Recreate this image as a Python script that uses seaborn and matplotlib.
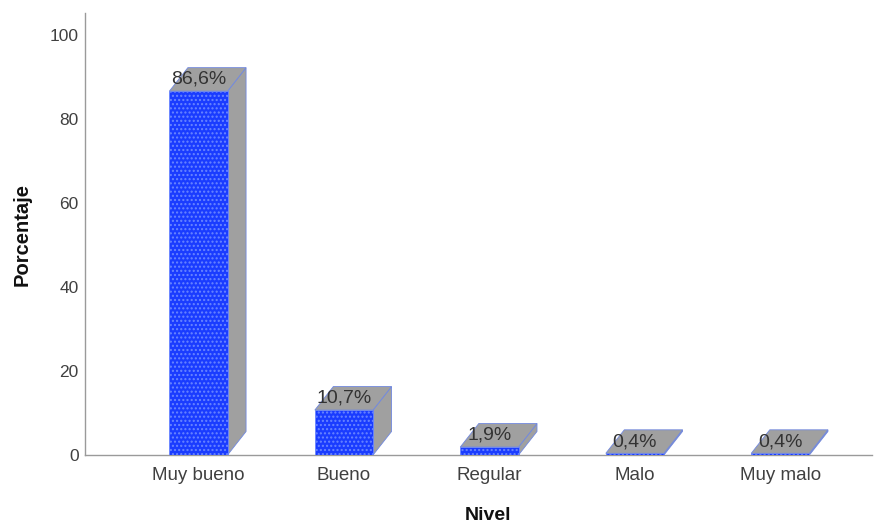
import matplotlib
matplotlib.use("Agg")
import matplotlib.pyplot as plt
from matplotlib import font_manager
import seaborn as sns
import pandas as pd
from matplotlib.patches import Polygon

categorias = ["Muy bueno", "Bueno", "Regular", "Malo", "Muy malo"]
porcentajes = [86.6, 10.7, 1.9, 0.4, 0.4]
etiquetas = ["86,6%", "10,7%", "1,9%", "0,4%", "0,4%"]
yticks = [0, 20, 40, 60, 80, 100]

sns.set_theme(style="white")
plt.rcParams['font.family'] = ['Liberation Sans', 'DejaVu Sans']
plt.rcParams['hatch.linewidth'] = 1.0

# narrow face for y tick labels if available
try:
    font_manager.findfont(font_manager.FontProperties(family="Liberation Sans Narrow"),
                          fallback_to_default=False)
    ytick_font = dict(family="Liberation Sans Narrow", size=14)
except Exception:
    ytick_font = dict(family="Liberation Sans", size=12.5, stretch="condensed")

W, H = 876, 524
fig = plt.figure(figsize=(W / 100, H / 100), dpi=100)
ax = fig.add_axes([85 / W, 69 / H, (872 - 85) / W, (455 - 13) / H])

df = pd.DataFrame({"Nivel": categorias, "Porcentaje": porcentajes})
sns.barplot(data=df, x="Nivel", y="Porcentaje", width=0.4, color="#1a3cff",
            saturation=1, edgecolor="#6a86ff", linewidth=0.6, hatch="....",
            ax=ax, zorder=3)

ax.set_xlim(-0.78, 4.63)
ax.set_ylim(0, 105.2)

# depth of the pseudo-3D bars, in pixels -> data units
dx_px, dy_px = 18.5, 23.5
x_per_px = (4.63 + 0.78) / (872 - 85)
y_per_px = 105.2 / (455 - 13)
dx, dy = dx_px * x_per_px, dy_px * y_per_px

gray = "#a0a0a0"
edge = "#7088e0"
for p, lab in zip(ax.patches, etiquetas):
    x0 = p.get_x()
    x1 = x0 + p.get_width()
    h = p.get_height()
    side = Polygon([(x1, 0), (x1, h), (x1 + dx, h + dy), (x1 + dx, dy)],
                   closed=True, facecolor=gray, edgecolor=edge, linewidth=0.6, zorder=2)
    top = Polygon([(x0, h), (x1, h), (x1 + dx, h + dy), (x0 + dx, h + dy)],
                  closed=True, facecolor=gray, edgecolor=edge, linewidth=0.6, zorder=4)
    ax.add_patch(side)
    ax.add_patch(top)
    ax.text((x0 + x1) / 2, h + dy * 0.5, lab, ha="center", va="center",
            fontsize=14, color="#333333", zorder=5)

ax.set_yticks(yticks)
ax.set_yticklabels([str(v) for v in yticks], color="#404040", **ytick_font)
sns.despine(ax=ax, top=True, right=True)
for s in ["left", "bottom"]:
    ax.spines[s].set_color("#9a9a9a")
    ax.spines[s].set_linewidth(1.0)
ax.tick_params(axis="both", length=0, colors="#404040")
ax.tick_params(axis="x", labelsize=13.5, pad=9)
ax.tick_params(axis="y", pad=4.5)
ax.set_xlabel("Nivel", fontsize=14, fontweight="bold", color="#111111")
ax.set_ylabel("Porcentaje", fontsize=14.5, fontweight="bold", color="#111111")
ax.xaxis.label.set_va("center")
ax.yaxis.label.set_va("center")
ax.xaxis.set_label_coords((488 - 85) / 787, -(515 - 455) / 442)
ax.yaxis.set_label_coords((22 - 85) / 787, 0.5)

fig.savefig("out.png", dpi=100)
